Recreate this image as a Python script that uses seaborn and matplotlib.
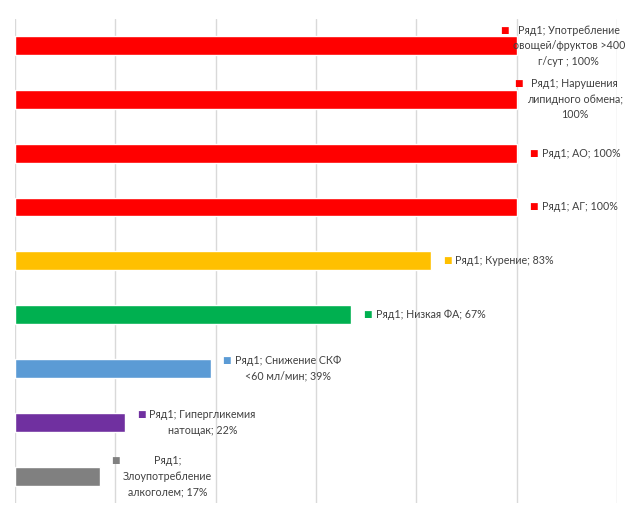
import matplotlib
matplotlib.use("Agg")
import matplotlib.pyplot as plt
import seaborn as sns

# data
categories = [
    "Употребление овощей/фруктов >400 г/сут",
    "Нарушения липидного обмена",
    "АО",
    "АГ",
    "Курение",
    "Низкая ФА",
    "Снижение СКФ <60 мл/мин",
    "Гипергликемия натощак",
    "Злоупотребление алкоголем",
]
values = [1.00, 1.00, 1.00, 1.00, 0.83, 0.67, 0.39, 0.22, 0.17]
label_texts = [
    "Ряд1; Употребление\nовощей/фруктов >400\nг/сут ; 100%",
    "Ряд1; Нарушения\nлипидного обмена;\n100%",
    "Ряд1; АО; 100%",
    "Ряд1; АГ; 100%",
    "Ряд1; Курение; 83%",
    "Ряд1; Низкая ФА; 67%",
    "Ряд1; Снижение СКФ\n<60 мл/мин; 39%",
    "Ряд1; Гипергликемия\nнатощак; 22%",
    "Ряд1;\nЗлоупотребление\nалкоголем; 17%",
]
x_ticks = [0, 0.2, 0.4, 0.6, 0.8, 1.0, 1.2]

# styling
bar_colors = ["#FF0000", "#FF0000", "#FF0000", "#FF0000", "#FFC000",
              "#00B050", "#5B9BD5", "#7030A0", "#808080"]
label_offsets = [-4, 10, 25, 25, 24, 25, 24, 24, 23]  # px from bar end

sns.set_style("white")
plt.rcParams["font.family"] = ["Lato", "DejaVu Sans"]

fig = plt.figure(figsize=(6.32, 5.30), dpi=100)
ax = fig.add_axes([15 / 632, 27 / 530, 602 / 632, 484.4 / 530])

sns.barplot(x=values, y=categories, hue=categories, palette=bar_colors,
            legend=False, width=0.35, saturation=1, orient="h", ax=ax)

ax.set_xlim(0, 1.2)
ax.set_xticks(x_ticks)
ax.grid(axis="x", color="#D9D9D9", linewidth=1)
ax.set_axisbelow(True)
ax.tick_params(left=False, bottom=False, labelleft=False, labelbottom=False)
ax.set_xlabel("")
ax.set_ylabel("")
for s in ax.spines.values():
    s.set_visible(False)

for i, (v, txt, off, c) in enumerate(zip(values, label_texts, label_offsets, bar_colors)):
    t = ax.annotate(txt, xy=(v, i), xytext=(off, 0), textcoords="offset pixels",
                    ha="left", va="center", multialignment="center",
                    fontsize=7.7, color="#404040", linespacing=1.5,
                    annotation_clip=False)
    ax.annotate("■", xy=(0, 1), xycoords=t, xytext=(-4, -1),
                textcoords="offset pixels", ha="right", va="top",
                fontsize=6.5, color=c, family="DejaVu Sans",
                annotation_clip=False)

fig.savefig("out.png", dpi=100)
